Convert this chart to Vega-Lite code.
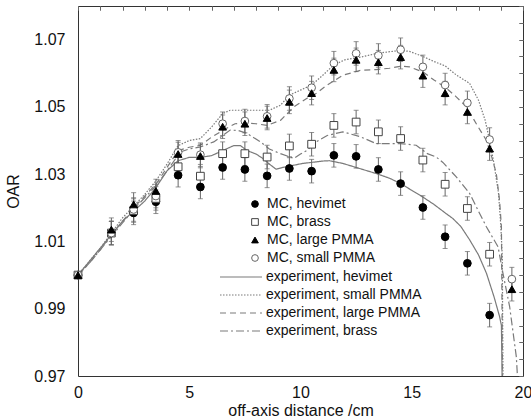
{
  "$schema": "https://vega.github.io/schema/vega-lite/v6.json",
  "width": 445,
  "height": 370,
  "autosize": {"type": "none"},
  "padding": {"left": 78, "top": 6, "right": 8, "bottom": 43},
  "background": "white",
  "config": {
    "view": {"stroke": "#333", "strokeWidth": 1},
    "font": "Liberation Sans",
    "axis": {"labelFont": "Liberation Sans", "titleFont": "Liberation Sans", "labelFontSize": 16, "titleFontSize": 16, "titleFontWeight": "normal", "labelColor": "#111", "titleColor": "#111", "grid": false, "domain": false, "tickColor": "#666", "tickWidth": 1},
    "legend": {"labelFont": "Liberation Sans", "labelFontSize": 14, "labelColor": "#111", "labelLimit": 300}
  },
  "datasets": {
    "mc": [
      {"x": 0, "series": "MC, hevimet", "oar": 1.0, "err": 0},
      {"x": 0, "series": "MC, brass", "oar": 1.0, "err": 0},
      {"x": 0, "series": "MC, small PMMA", "oar": 1.0, "err": 0},
      {"x": 0, "series": "MC, large PMMA", "oar": 1.0, "err": 0},
      {"x": 1.5, "series": "MC, hevimet", "oar": 1.0125, "err": 0.0035},
      {"x": 1.5, "series": "MC, brass", "oar": 1.0125, "err": 0.0035},
      {"x": 1.5, "series": "MC, small PMMA", "oar": 1.0125, "err": 0.0035},
      {"x": 1.5, "series": "MC, large PMMA", "oar": 1.0135, "err": 0.0035},
      {"x": 2.5, "series": "MC, hevimet", "oar": 1.0185, "err": 0.0035},
      {"x": 2.5, "series": "MC, brass", "oar": 1.0192, "err": 0.0035},
      {"x": 2.5, "series": "MC, small PMMA", "oar": 1.0195, "err": 0.0035},
      {"x": 2.5, "series": "MC, large PMMA", "oar": 1.021, "err": 0.0035},
      {"x": 3.5, "series": "MC, hevimet", "oar": 1.0218, "err": 0.0035},
      {"x": 3.5, "series": "MC, brass", "oar": 1.0228, "err": 0.0035},
      {"x": 3.5, "series": "MC, small PMMA", "oar": 1.0235, "err": 0.0035},
      {"x": 3.5, "series": "MC, large PMMA", "oar": 1.025, "err": 0.0035},
      {"x": 4.5, "series": "MC, hevimet", "oar": 1.0297, "err": 0.0035},
      {"x": 4.5, "series": "MC, brass", "oar": 1.0322, "err": 0.0035},
      {"x": 4.5, "series": "MC, small PMMA", "oar": 1.0365, "err": 0.0035},
      {"x": 4.5, "series": "MC, large PMMA", "oar": 1.036, "err": 0.0035},
      {"x": 5.5, "series": "MC, hevimet", "oar": 1.0262, "err": 0.0035},
      {"x": 5.5, "series": "MC, brass", "oar": 1.0294, "err": 0.0035},
      {"x": 5.5, "series": "MC, small PMMA", "oar": 1.0358, "err": 0.0035},
      {"x": 5.5, "series": "MC, large PMMA", "oar": 1.0354, "err": 0.0035},
      {"x": 6.5, "series": "MC, hevimet", "oar": 1.032, "err": 0.0035},
      {"x": 6.5, "series": "MC, brass", "oar": 1.0361, "err": 0.0035},
      {"x": 6.5, "series": "MC, small PMMA", "oar": 1.045, "err": 0.0035},
      {"x": 6.5, "series": "MC, large PMMA", "oar": 1.0441, "err": 0.0035},
      {"x": 7.5, "series": "MC, hevimet", "oar": 1.0314, "err": 0.0035},
      {"x": 7.5, "series": "MC, brass", "oar": 1.0361, "err": 0.0035},
      {"x": 7.5, "series": "MC, small PMMA", "oar": 1.0458, "err": 0.0035},
      {"x": 7.5, "series": "MC, large PMMA", "oar": 1.045, "err": 0.0035},
      {"x": 8.5, "series": "MC, hevimet", "oar": 1.0295, "err": 0.0035},
      {"x": 8.5, "series": "MC, brass", "oar": 1.0351, "err": 0.0035},
      {"x": 8.5, "series": "MC, small PMMA", "oar": 1.0472, "err": 0.0035},
      {"x": 8.5, "series": "MC, large PMMA", "oar": 1.0467, "err": 0.0035},
      {"x": 9.5, "series": "MC, hevimet", "oar": 1.0317, "err": 0.0035},
      {"x": 9.5, "series": "MC, brass", "oar": 1.0384, "err": 0.0035},
      {"x": 9.5, "series": "MC, small PMMA", "oar": 1.0525, "err": 0.0035},
      {"x": 9.5, "series": "MC, large PMMA", "oar": 1.0515, "err": 0.0035},
      {"x": 10.5, "series": "MC, hevimet", "oar": 1.0309, "err": 0.0035},
      {"x": 10.5, "series": "MC, brass", "oar": 1.0389, "err": 0.0035},
      {"x": 10.5, "series": "MC, small PMMA", "oar": 1.0557, "err": 0.0035},
      {"x": 10.5, "series": "MC, large PMMA", "oar": 1.0541, "err": 0.0035},
      {"x": 11.5, "series": "MC, hevimet", "oar": 1.0356, "err": 0.0035},
      {"x": 11.5, "series": "MC, brass", "oar": 1.0445, "err": 0.0035},
      {"x": 11.5, "series": "MC, small PMMA", "oar": 1.063, "err": 0.0035},
      {"x": 11.5, "series": "MC, large PMMA", "oar": 1.061, "err": 0.0035},
      {"x": 12.5, "series": "MC, hevimet", "oar": 1.0353, "err": 0.0035},
      {"x": 12.5, "series": "MC, brass", "oar": 1.0455, "err": 0.0035},
      {"x": 12.5, "series": "MC, small PMMA", "oar": 1.0659, "err": 0.0035},
      {"x": 12.5, "series": "MC, large PMMA", "oar": 1.064, "err": 0.0035},
      {"x": 13.5, "series": "MC, hevimet", "oar": 1.0314, "err": 0.0035},
      {"x": 13.5, "series": "MC, brass", "oar": 1.0426, "err": 0.0035},
      {"x": 13.5, "series": "MC, small PMMA", "oar": 1.0653, "err": 0.0035},
      {"x": 13.5, "series": "MC, large PMMA", "oar": 1.0633, "err": 0.0035},
      {"x": 14.5, "series": "MC, hevimet", "oar": 1.0272, "err": 0.0035},
      {"x": 14.5, "series": "MC, brass", "oar": 1.0406, "err": 0.0035},
      {"x": 14.5, "series": "MC, small PMMA", "oar": 1.067, "err": 0.0035},
      {"x": 14.5, "series": "MC, large PMMA", "oar": 1.0648, "err": 0.0035},
      {"x": 15.5, "series": "MC, hevimet", "oar": 1.0201, "err": 0.0035},
      {"x": 15.5, "series": "MC, brass", "oar": 1.0342, "err": 0.0035},
      {"x": 15.5, "series": "MC, small PMMA", "oar": 1.0619, "err": 0.0035},
      {"x": 15.5, "series": "MC, large PMMA", "oar": 1.0593, "err": 0.0035},
      {"x": 16.5, "series": "MC, hevimet", "oar": 1.0114, "err": 0.0035},
      {"x": 16.5, "series": "MC, brass", "oar": 1.027, "err": 0.0035},
      {"x": 16.5, "series": "MC, small PMMA", "oar": 1.0565, "err": 0.0035},
      {"x": 16.5, "series": "MC, large PMMA", "oar": 1.0541, "err": 0.0035},
      {"x": 17.5, "series": "MC, hevimet", "oar": 1.0035, "err": 0.0035},
      {"x": 17.5, "series": "MC, brass", "oar": 1.0198, "err": 0.0035},
      {"x": 17.5, "series": "MC, small PMMA", "oar": 1.0512, "err": 0.0035},
      {"x": 17.5, "series": "MC, large PMMA", "oar": 1.0485, "err": 0.0035},
      {"x": 18.5, "series": "MC, hevimet", "oar": 0.9881, "err": 0.0035},
      {"x": 18.5, "series": "MC, brass", "oar": 1.0062, "err": 0.0035},
      {"x": 18.5, "series": "MC, small PMMA", "oar": 1.0403, "err": 0.0035},
      {"x": 18.5, "series": "MC, large PMMA", "oar": 1.0376, "err": 0.0035},
      {"x": 19.5, "series": "MC, small PMMA", "oar": 0.9988, "err": 0.0035},
      {"x": 19.5, "series": "MC, large PMMA", "oar": 0.9958, "err": 0.0035}
    ],
    "exp": [
      {"x": 0, "series": "experiment, hevimet", "oar": 1.0},
      {"x": 0.5, "series": "experiment, hevimet", "oar": 1.004},
      {"x": 1.0, "series": "experiment, hevimet", "oar": 1.008},
      {"x": 1.5, "series": "experiment, hevimet", "oar": 1.012},
      {"x": 2.0, "series": "experiment, hevimet", "oar": 1.016},
      {"x": 2.5, "series": "experiment, hevimet", "oar": 1.019},
      {"x": 3.0, "series": "experiment, hevimet", "oar": 1.022},
      {"x": 3.5, "series": "experiment, hevimet", "oar": 1.026},
      {"x": 4.0, "series": "experiment, hevimet", "oar": 1.031},
      {"x": 4.5, "series": "experiment, hevimet", "oar": 1.034},
      {"x": 5.0, "series": "experiment, hevimet", "oar": 1.035},
      {"x": 5.5, "series": "experiment, hevimet", "oar": 1.035},
      {"x": 6.0, "series": "experiment, hevimet", "oar": 1.0355},
      {"x": 6.5, "series": "experiment, hevimet", "oar": 1.037},
      {"x": 7.0, "series": "experiment, hevimet", "oar": 1.0385},
      {"x": 7.3, "series": "experiment, hevimet", "oar": 1.0385},
      {"x": 7.6, "series": "experiment, hevimet", "oar": 1.037},
      {"x": 8.0, "series": "experiment, hevimet", "oar": 1.036},
      {"x": 8.3, "series": "experiment, hevimet", "oar": 1.0347},
      {"x": 8.6, "series": "experiment, hevimet", "oar": 1.033},
      {"x": 8.9, "series": "experiment, hevimet", "oar": 1.0315},
      {"x": 9.2, "series": "experiment, hevimet", "oar": 1.032},
      {"x": 9.5, "series": "experiment, hevimet", "oar": 1.0324},
      {"x": 10.1, "series": "experiment, hevimet", "oar": 1.0332},
      {"x": 10.5, "series": "experiment, hevimet", "oar": 1.0335},
      {"x": 11.0, "series": "experiment, hevimet", "oar": 1.0339},
      {"x": 11.3, "series": "experiment, hevimet", "oar": 1.034},
      {"x": 11.9, "series": "experiment, hevimet", "oar": 1.0332},
      {"x": 12.5, "series": "experiment, hevimet", "oar": 1.032},
      {"x": 13.0, "series": "experiment, hevimet", "oar": 1.031},
      {"x": 13.4, "series": "experiment, hevimet", "oar": 1.0302},
      {"x": 14.0, "series": "experiment, hevimet", "oar": 1.0288},
      {"x": 14.5, "series": "experiment, hevimet", "oar": 1.0272},
      {"x": 15.0, "series": "experiment, hevimet", "oar": 1.0252},
      {"x": 15.5, "series": "experiment, hevimet", "oar": 1.0232},
      {"x": 16.0, "series": "experiment, hevimet", "oar": 1.021},
      {"x": 16.5, "series": "experiment, hevimet", "oar": 1.0185},
      {"x": 16.85, "series": "experiment, hevimet", "oar": 1.0168},
      {"x": 17.2, "series": "experiment, hevimet", "oar": 1.0145},
      {"x": 17.6, "series": "experiment, hevimet", "oar": 1.0105},
      {"x": 18.0, "series": "experiment, hevimet", "oar": 1.006},
      {"x": 18.36, "series": "experiment, hevimet", "oar": 1.0005},
      {"x": 18.7, "series": "experiment, hevimet", "oar": 0.9935},
      {"x": 18.95, "series": "experiment, hevimet", "oar": 0.9876},
      {"x": 19.03, "series": "experiment, hevimet", "oar": 0.985},
      {"x": 19.06, "series": "experiment, hevimet", "oar": 0.97},
      {"x": 0, "series": "experiment, small PMMA", "oar": 1.0},
      {"x": 0.5, "series": "experiment, small PMMA", "oar": 1.004},
      {"x": 1.0, "series": "experiment, small PMMA", "oar": 1.008},
      {"x": 1.5, "series": "experiment, small PMMA", "oar": 1.0125},
      {"x": 2.0, "series": "experiment, small PMMA", "oar": 1.017},
      {"x": 2.5, "series": "experiment, small PMMA", "oar": 1.0205},
      {"x": 3.0, "series": "experiment, small PMMA", "oar": 1.024},
      {"x": 3.5, "series": "experiment, small PMMA", "oar": 1.028},
      {"x": 4.0, "series": "experiment, small PMMA", "oar": 1.033},
      {"x": 4.5, "series": "experiment, small PMMA", "oar": 1.0385},
      {"x": 5.0, "series": "experiment, small PMMA", "oar": 1.04},
      {"x": 5.5, "series": "experiment, small PMMA", "oar": 1.0406},
      {"x": 6.0, "series": "experiment, small PMMA", "oar": 1.044},
      {"x": 6.5, "series": "experiment, small PMMA", "oar": 1.048},
      {"x": 6.84, "series": "experiment, small PMMA", "oar": 1.049},
      {"x": 7.5, "series": "experiment, small PMMA", "oar": 1.049},
      {"x": 8.6, "series": "experiment, small PMMA", "oar": 1.049},
      {"x": 9.1, "series": "experiment, small PMMA", "oar": 1.0505},
      {"x": 9.5, "series": "experiment, small PMMA", "oar": 1.0535},
      {"x": 10.0, "series": "experiment, small PMMA", "oar": 1.055},
      {"x": 10.5, "series": "experiment, small PMMA", "oar": 1.0565},
      {"x": 11.0, "series": "experiment, small PMMA", "oar": 1.0594},
      {"x": 11.5, "series": "experiment, small PMMA", "oar": 1.0625},
      {"x": 12.0, "series": "experiment, small PMMA", "oar": 1.064},
      {"x": 12.7, "series": "experiment, small PMMA", "oar": 1.0648},
      {"x": 13.5, "series": "experiment, small PMMA", "oar": 1.066},
      {"x": 14.5, "series": "experiment, small PMMA", "oar": 1.0668},
      {"x": 14.9, "series": "experiment, small PMMA", "oar": 1.0665},
      {"x": 15.5, "series": "experiment, small PMMA", "oar": 1.065},
      {"x": 16.0, "series": "experiment, small PMMA", "oar": 1.0635},
      {"x": 16.5, "series": "experiment, small PMMA", "oar": 1.0622},
      {"x": 17.0, "series": "experiment, small PMMA", "oar": 1.0595},
      {"x": 17.6, "series": "experiment, small PMMA", "oar": 1.057},
      {"x": 18.0, "series": "experiment, small PMMA", "oar": 1.052},
      {"x": 18.3, "series": "experiment, small PMMA", "oar": 1.046},
      {"x": 18.5, "series": "experiment, small PMMA", "oar": 1.04},
      {"x": 18.7, "series": "experiment, small PMMA", "oar": 1.033},
      {"x": 18.9, "series": "experiment, small PMMA", "oar": 1.0243},
      {"x": 19.0, "series": "experiment, small PMMA", "oar": 1.015},
      {"x": 19.07, "series": "experiment, small PMMA", "oar": 1.0054},
      {"x": 19.1, "series": "experiment, small PMMA", "oar": 0.97},
      {"x": 0, "series": "experiment, large PMMA", "oar": 1.0},
      {"x": 0.5, "series": "experiment, large PMMA", "oar": 1.0035},
      {"x": 1.0, "series": "experiment, large PMMA", "oar": 1.0075},
      {"x": 1.5, "series": "experiment, large PMMA", "oar": 1.012},
      {"x": 2.0, "series": "experiment, large PMMA", "oar": 1.016},
      {"x": 2.5, "series": "experiment, large PMMA", "oar": 1.02},
      {"x": 3.0, "series": "experiment, large PMMA", "oar": 1.0235},
      {"x": 3.5, "series": "experiment, large PMMA", "oar": 1.027},
      {"x": 4.0, "series": "experiment, large PMMA", "oar": 1.032},
      {"x": 4.5, "series": "experiment, large PMMA", "oar": 1.037},
      {"x": 5.0, "series": "experiment, large PMMA", "oar": 1.038},
      {"x": 5.5, "series": "experiment, large PMMA", "oar": 1.0386},
      {"x": 6.0, "series": "experiment, large PMMA", "oar": 1.041},
      {"x": 6.5, "series": "experiment, large PMMA", "oar": 1.043},
      {"x": 7.06, "series": "experiment, large PMMA", "oar": 1.045},
      {"x": 7.6, "series": "experiment, large PMMA", "oar": 1.0452},
      {"x": 8.0, "series": "experiment, large PMMA", "oar": 1.045},
      {"x": 8.5, "series": "experiment, large PMMA", "oar": 1.0445},
      {"x": 9.1, "series": "experiment, large PMMA", "oar": 1.046},
      {"x": 9.7, "series": "experiment, large PMMA", "oar": 1.05},
      {"x": 10.4, "series": "experiment, large PMMA", "oar": 1.053},
      {"x": 10.6, "series": "experiment, large PMMA", "oar": 1.0535},
      {"x": 11.2, "series": "experiment, large PMMA", "oar": 1.0565},
      {"x": 11.9, "series": "experiment, large PMMA", "oar": 1.0594},
      {"x": 12.7, "series": "experiment, large PMMA", "oar": 1.0609},
      {"x": 13.4, "series": "experiment, large PMMA", "oar": 1.0611},
      {"x": 14.0, "series": "experiment, large PMMA", "oar": 1.0615},
      {"x": 14.5, "series": "experiment, large PMMA", "oar": 1.0621},
      {"x": 14.9, "series": "experiment, large PMMA", "oar": 1.0619},
      {"x": 15.5, "series": "experiment, large PMMA", "oar": 1.0604},
      {"x": 16.0, "series": "experiment, large PMMA", "oar": 1.058},
      {"x": 16.5, "series": "experiment, large PMMA", "oar": 1.0559},
      {"x": 17.0, "series": "experiment, large PMMA", "oar": 1.053},
      {"x": 17.46, "series": "experiment, large PMMA", "oar": 1.05},
      {"x": 17.9, "series": "experiment, large PMMA", "oar": 1.045},
      {"x": 18.36, "series": "experiment, large PMMA", "oar": 1.04},
      {"x": 18.6, "series": "experiment, large PMMA", "oar": 1.035},
      {"x": 18.8, "series": "experiment, large PMMA", "oar": 1.0302},
      {"x": 18.95, "series": "experiment, large PMMA", "oar": 1.022},
      {"x": 19.03, "series": "experiment, large PMMA", "oar": 1.0143},
      {"x": 19.08, "series": "experiment, large PMMA", "oar": 0.97},
      {"x": 0, "series": "experiment, brass", "oar": 1.0},
      {"x": 0.5, "series": "experiment, brass", "oar": 1.0035},
      {"x": 1.0, "series": "experiment, brass", "oar": 1.0075},
      {"x": 1.5, "series": "experiment, brass", "oar": 1.0115},
      {"x": 2.0, "series": "experiment, brass", "oar": 1.0155},
      {"x": 2.5, "series": "experiment, brass", "oar": 1.0195},
      {"x": 3.0, "series": "experiment, brass", "oar": 1.023},
      {"x": 3.5, "series": "experiment, brass", "oar": 1.0265},
      {"x": 4.0, "series": "experiment, brass", "oar": 1.031},
      {"x": 4.6, "series": "experiment, brass", "oar": 1.0366},
      {"x": 5.0, "series": "experiment, brass", "oar": 1.0375},
      {"x": 5.5, "series": "experiment, brass", "oar": 1.0381},
      {"x": 6.1, "series": "experiment, brass", "oar": 1.0396},
      {"x": 6.84, "series": "experiment, brass", "oar": 1.0431},
      {"x": 7.2, "series": "experiment, brass", "oar": 1.043},
      {"x": 7.6, "series": "experiment, brass", "oar": 1.0421},
      {"x": 8.2, "series": "experiment, brass", "oar": 1.0396},
      {"x": 8.6, "series": "experiment, brass", "oar": 1.0375},
      {"x": 9.1, "series": "experiment, brass", "oar": 1.0361},
      {"x": 9.7, "series": "experiment, brass", "oar": 1.0347},
      {"x": 10.0, "series": "experiment, brass", "oar": 1.036},
      {"x": 10.3, "series": "experiment, brass", "oar": 1.0371},
      {"x": 10.7, "series": "experiment, brass", "oar": 1.0396},
      {"x": 11.2, "series": "experiment, brass", "oar": 1.0415},
      {"x": 11.9, "series": "experiment, brass", "oar": 1.0426},
      {"x": 12.7, "series": "experiment, brass", "oar": 1.0411},
      {"x": 13.4, "series": "experiment, brass", "oar": 1.0391},
      {"x": 14.5, "series": "experiment, brass", "oar": 1.0391},
      {"x": 15.2, "series": "experiment, brass", "oar": 1.0386},
      {"x": 15.7, "series": "experiment, brass", "oar": 1.0361},
      {"x": 16.1, "series": "experiment, brass", "oar": 1.0351},
      {"x": 16.4, "series": "experiment, brass", "oar": 1.0335},
      {"x": 16.86, "series": "experiment, brass", "oar": 1.0302},
      {"x": 17.0, "series": "experiment, brass", "oar": 1.0292},
      {"x": 17.6, "series": "experiment, brass", "oar": 1.0243},
      {"x": 18.0, "series": "experiment, brass", "oar": 1.019},
      {"x": 18.36, "series": "experiment, brass", "oar": 1.0143},
      {"x": 18.88, "series": "experiment, brass", "oar": 1.0084},
      {"x": 19.1, "series": "experiment, brass", "oar": 1.0005},
      {"x": 19.4, "series": "experiment, brass", "oar": 0.9906},
      {"x": 19.7, "series": "experiment, brass", "oar": 0.9757},
      {"x": 19.75, "series": "experiment, brass", "oar": 0.97}
    ]
  },
  "layer": [
    {
      "data": {"name": "exp"},
      "mark": {"type": "line", "stroke": "#7a7a7a", "strokeWidth": 1.2, "clip": true},
      "encoding": {
        "x": {"field": "x", "type": "quantitative", "scale": {"domain": [0, 20], "nice": false, "zero": false},
          "axis": {"values": [0, 5, 10, 15, 20], "ticks": false, "labelPadding": 8, "labelFlush": false, "format": "d", "title": "off-axis distance /cm", "titlePadding": 2}},
        "y": {"field": "oar", "type": "quantitative", "scale": {"domain": [0.97, 1.08], "nice": false, "zero": false},
          "axis": {"values": [0.97, 0.99, 1.01, 1.03, 1.05, 1.07], "ticks": false, "labelPadding": 13, "labelFlush": false, "format": ".2f", "title": "OAR", "titlePadding": 12}},
        "strokeDash": {"field": "series", "type": "nominal",
          "scale": {"domain": ["experiment, hevimet", "experiment, small PMMA", "experiment, large PMMA", "experiment, brass"], "range": [[1, 0], [1.5, 1.5], [6, 4], [8, 3, 2, 3]]},
          "legend": {"title": null, "orient": "none", "legendX": 172, "legendY": 264, "symbolType": "M -7.4 0 L 1 0", "symbolSize": 100, "symbolStrokeColor": "#7a7a7a", "symbolStrokeWidth": 1.2, "labelOffset": 2, "rowPadding": 4}}
      }
    },
    {
      "data": {"name": "mc"},
      "transform": [{"filter": "datum.x > 0"}],
      "mark": {"type": "errorbar", "ticks": true, "color": "#666"},
      "encoding": {
        "x": {"field": "x", "type": "quantitative",
          "axis": {"values": [0,1,2,3,4,5,6,7,8,9,10,11,12,13,14,15,16,17,18,19,20], "labels": false, "tickSize": -4, "title": null}},
        "y": {"field": "oar", "type": "quantitative",
          "axis": {"values": [0.97,0.975,0.98,0.985,0.99,0.995,1.0,1.005,1.01,1.015,1.02,1.025,1.03,1.035,1.04,1.045,1.05,1.055,1.06,1.065,1.07,1.075,1.08], "labels": false, "tickSize": -4, "title": null}},
        "yError": {"field": "err"}
      }
    },
    {
      "data": {"name": "mc"},
      "mark": {"type": "point", "filled": true, "size": 60, "strokeWidth": 1, "opacity": 1},
      "encoding": {
        "x": {"field": "x", "type": "quantitative",
          "axis": {"orient": "top", "values": [0,1,2,3,4,5,6,7,8,9,10,11,12,13,14,15,16,17,18,19,20], "labels": false, "tickSize": -4, "title": null}},
        "y": {"field": "oar", "type": "quantitative",
          "axis": {"orient": "right", "values": [0.97,0.975,0.98,0.985,0.99,0.995,1.0,1.005,1.01,1.015,1.02,1.025,1.03,1.035,1.04,1.045,1.05,1.055,1.06,1.065,1.07,1.075,1.08], "labels": false, "tickSize": -4, "title": null}},
        "shape": {"field": "series", "type": "nominal",
          "scale": {"domain": ["MC, hevimet", "MC, brass", "MC, large PMMA", "MC, small PMMA"], "range": ["circle", "square", "triangle-up", "circle"]},
          "legend": {"title": null, "orient": "none", "legendX": 170, "legendY": 191, "symbolSize": 45, "symbolStrokeWidth": 1, "labelOffset": 5, "rowPadding": 4}},
        "fill": {"field": "series", "type": "nominal",
          "scale": {"domain": ["MC, hevimet", "MC, brass", "MC, large PMMA", "MC, small PMMA"], "range": ["black", "white", "black", "white"]},
          "legend": {"title": null, "orient": "none", "legendX": 170, "legendY": 191, "symbolSize": 45, "symbolStrokeWidth": 1, "labelOffset": 5, "rowPadding": 4}},
        "stroke": {"field": "series", "type": "nominal",
          "scale": {"domain": ["MC, hevimet", "MC, brass", "MC, large PMMA", "MC, small PMMA"], "range": ["black", "#444", "black", "#666"]},
          "legend": {"title": null, "orient": "none", "legendX": 170, "legendY": 191, "symbolSize": 45, "symbolStrokeWidth": 1, "labelOffset": 5, "rowPadding": 4}}
      }
    }
  ],
  "resolve": {"axis": {"x": "independent", "y": "independent"}}
}
